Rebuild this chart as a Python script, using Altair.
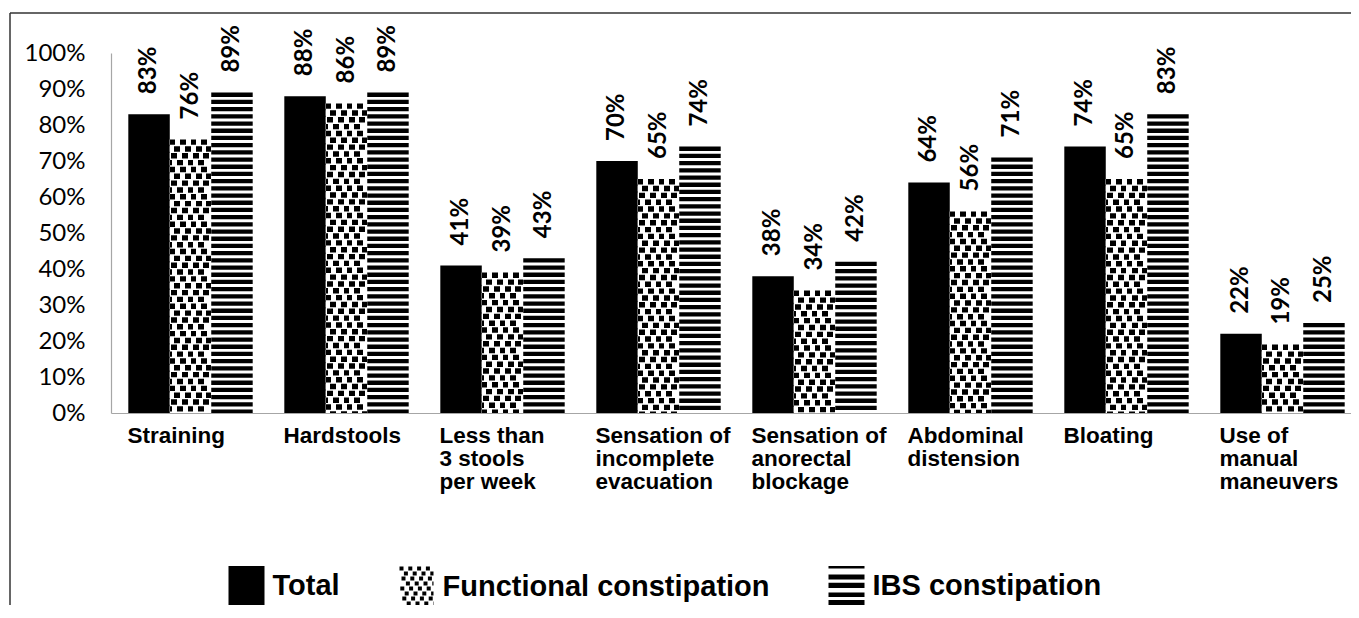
import altair as alt
import pandas as pd

categories = [
    "Straining",
    "Hardstools",
    "Less than\n3 stools\nper week",
    "Sensation of\nincomplete\nevacuation",
    "Sensation of\nanorectal\nblockage",
    "Abdominal\ndistension",
    "Bloating",
    "Use of\nmanual\nmaneuvers",
]
series_names = ["Total", "Functional constipation", "IBS constipation"]
total = [83, 88, 41, 70, 38, 64, 74, 22]
functional = [76, 86, 39, 65, 34, 56, 65, 19]
ibs = [89, 89, 43, 74, 42, 71, 83, 25]
y_ticks = [0, 10, 20, 30, 40, 50, 60, 70, 80, 90, 100]

records = []
for s, vals in zip(series_names, [total, functional, ibs]):
    for c, v in zip(categories, vals):
        records.append({"category": c, "series": s, "value": v, "label": f"{v}%"})
df = pd.DataFrame(records)

# ---- scales / axes ----
x_scale = alt.Scale(domain=categories, paddingInner=0.2026, paddingOuter=0.0757, align=0.733)
xo_scale = alt.Scale(domain=series_names, paddingInner=0, paddingOuter=0)
y_scale = alt.Scale(domain=[0, 100], nice=False)

x_axis = alt.Axis(
    title=None, labelExpr="split(datum.label, '\\n')", labelAlign="left", labelBaseline="top",
    labelOffset=-63, labelPadding=11, labelFont="Liberation Sans", labelFontSize=22.5,
    labelFontWeight="bold", labelColor="black", labelLineHeight=23, ticks=False,
    domainColor="#a6a6a6", domainWidth=1.2, labelAngle=0, labelOverlap=False, labelBound=False,
    labelLimit=300, grid=False,
)
y_axis = alt.Axis(
    title=None, values=y_ticks, labelExpr="datum.value + '%'", ticks=False, grid=False,
    domainColor="#a6a6a6", domainWidth=1.2, labelFont="Lato", labelFontSize=24,
    labelColor="black", labelPadding=26,
)

X = alt.X("category:N", scale=x_scale, axis=x_axis, title=None)
XO = alt.XOffset("series:N", scale=xo_scale)

def Y(field):
    return alt.Y(field, scale=y_scale, axis=y_axis, title=None)

base = alt.Chart(df)

# ---- Total: solid black ----
total_layer = base.transform_filter(alt.datum.series == series_names[0]).mark_bar(color="black").encode(
    x=X, xOffset=XO, y=Y("value:Q")
)

# ---- Functional: confetti pattern built of rows with hard-stop gradients ----
def hard_gradient(intervals):
    stops = [alt.GradientStop(color="white", offset=0)]
    for a, b in intervals:
        stops += [
            alt.GradientStop(color="white", offset=a),
            alt.GradientStop(color="black", offset=a),
            alt.GradientStop(color="black", offset=b),
            alt.GradientStop(color="white", offset=b),
        ]
    stops.append(alt.GradientStop(color="white", offset=1))
    return alt.LinearGradient(gradient="linear", stops=stops, x1=0, x2=1, y1=0, y2=0)

row_patterns = [
    [(0.00, 0.13), (0.24, 0.38), (0.51, 0.64), (0.76, 0.90)],
    [(0.10, 0.25), (0.36, 0.50), (0.63, 0.77), (0.88, 1.00)],
    [(0.03, 0.17), (0.30, 0.43), (0.55, 0.70), (0.81, 0.94)],
    [(0.00, 0.06), (0.17, 0.31), (0.43, 0.57), (0.69, 0.83)],
]
gradients = [hard_gradient(p) for p in row_patterns]

func_rows = (
    base.transform_filter(alt.datum.series == series_names[1])
    .transform_calculate(idx="sequence(0, ceil(datum.value / 1.9))")
    .transform_flatten(["idx"])
    .transform_calculate(
        top="datum.value - datum.idx * 1.9",
        bot="max(datum.value - datum.idx * 1.9 - 1.5, 0)",
        k="datum.idx % 4",
    )
    .transform_filter("datum.top > 0")
)
func_layers = [
    func_rows.transform_filter(f"datum.k == {k}").mark_bar(fill=g).encode(
        x=X, xOffset=XO, y=Y("top:Q"), y2="bot:Q"
    )
    for k, g in enumerate(gradients)
]

# ---- IBS: horizontal stripes ----
ibs_layer = (
    base.transform_filter(alt.datum.series == series_names[2])
    .transform_calculate(idx="sequence(0, ceil(datum.value / 2))")
    .transform_flatten(["idx"])
    .transform_calculate(top="datum.value - datum.idx * 2", bot="max(datum.value - datum.idx * 2 - 1.2, 0)")
    .transform_filter("datum.top > 0")
    .mark_bar(color="black")
    .encode(x=X, xOffset=XO, y=Y("top:Q"), y2="bot:Q")
)

# ---- value labels ----
text_layer = base.mark_text(
    angle=270, align="left", baseline="middle", dx=20,
    font="'Liberation Sans Narrow', 'Lato'", fontSize=24,
    fontWeight="bold", color="black",
).encode(x=X, xOffset=XO, y=Y("value:Q"), text="label:N")

# ---- legend (custom pattern symbols) ----
def rect_path(x0, y0, x1, y1):
    return f"M{x0:.3f},{y0:.3f}H{x1:.3f}V{y1:.3f}H{x0:.3f}Z"

p_total = rect_path(-0.9, -1, 0.9, 1)
p_ibs = "".join(rect_path(-0.9, a, 0.9, b) for a, b in [(-1, -0.88), (-0.58, -0.32), (-0.16, 0.1), (0.32, 0.55), (0.7, 1.0)])
conf_offsets = [0.0, 0.22, 0.1, 0.32, 0.04, 0.26, 0.14, 0.36]
conf_parts = []
for j, off in enumerate(conf_offsets):
    y0 = -1 + j * 0.25
    xs = -0.85 + off
    while xs < 0.85:
        conf_parts.append(rect_path(xs, y0, min(xs + 0.2, 0.85), y0 + 0.19))
        xs += 0.44
p_func = "".join(conf_parts)

legend_layer = base.mark_point(filled=True, opacity=0, color="black").encode(
    x=X, y=Y("value:Q"),
    shape=alt.Shape(
        "series:N",
        scale=alt.Scale(domain=series_names, range=[p_total, p_func, p_ibs]),
        legend=alt.Legend(
            title=None, orient="none", legendX=115.5, legendY=513, direction="horizontal",
            symbolSize=1600, symbolFillColor="black", symbolStrokeWidth=0, symbolOpacity=1,
            labelFont="Liberation Sans", labelFontSize=29, labelFontWeight="bold",
            labelColor="black", labelOffset=6, columnPadding=56, labelLimit=600, padding=0,
        ),
    ),
)

# ---- outer frame (cropped chart border) ----
frame_data = alt.Data(values=[{"f": 1}])
border_top = alt.Chart(frame_data).mark_rule(color="#333333", strokeWidth=1.5).encode(
    x=alt.value(-101), x2=alt.value(1240), y=alt.value(-40)
)
border_left = alt.Chart(frame_data).mark_rule(color="#333333", strokeWidth=1.5).encode(
    x=alt.value(-101), y=alt.value(-40), y2=alt.value(552)
)

chart = (
    alt.layer(total_layer, *func_layers, ibs_layer, text_layer, legend_layer, border_top, border_left)
    .properties(
        width=1240, height=360,
        autosize=alt.AutoSizeParams(type="none"),
        padding={"left": 103, "top": 45, "right": 0, "bottom": 192},
        background="white",
    )
    .configure_view(stroke=None)
)

chart.save("out.html", embed_options={"renderer": "svg", "actions": False})
